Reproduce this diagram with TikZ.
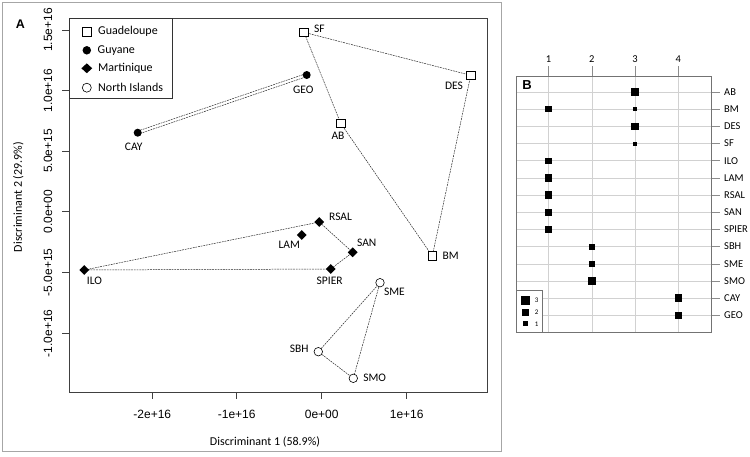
\documentclass[tikz,border=0pt]{standalone}
\usepackage{fontspec}
\setmainfont{Carlito}
\newfontfamily\arialf{Liberation Sans}
\usetikzlibrary{shapes.geometric}
\pgfdeclarelayer{bg}
\pgfsetlayers{bg,main}
\begin{document}
\begin{tikzpicture}[x=1pt,y=-1pt,
  sq/.style={rectangle, draw=black, fill=white, minimum size=8.5pt, inner sep=0pt, line width=0.6pt},
  fc/.style={circle, fill=black, minimum size=8pt, inner sep=0pt},
  oc/.style={circle, draw=black, fill=white, minimum size=8.5pt, inner sep=0pt, line width=0.6pt},
  dm/.style={diamond, fill=black, minimum width=10pt, minimum height=10pt, inner sep=0pt},
  lab/.style={font=\fontsize{11.5}{13}\selectfont, inner sep=0pt},
  leg/.style={font=\fontsize{12}{14}\selectfont, inner sep=0pt, anchor=west},
  tickl/.style={font=\arialf\fontsize{12}{14}\selectfont, inner sep=0pt},
  axt/.style={font=\fontsize{12}{14}\selectfont, inner sep=0pt},
  link/.style={dash pattern=on 1.8pt off 0.9pt, line width=0.5pt, black!85},
  frame/.style={draw=black!75, line width=1pt},
  tk/.style={draw=black!75, line width=0.8pt},
  panel/.style={font=\arialf\bfseries\fontsize{12.5}{14}\selectfont, inner sep=0pt},
  bsq/.style={rectangle, fill=black, inner sep=0pt, minimum size=#1},
  blab/.style={font=\fontsize{10.5}{12}\selectfont, inner sep=0pt},
  grid/.style={draw=black!18, line width=0.6pt},
  btk/.style={draw=black!45, line width=0.6pt}
]
\useasboundingbox (0,0) rectangle (750,456);
% outer frame of panel A
\draw[black!35, line width=1.3pt] (2.5,2.5) rectangle (501.5,451.5);
\node[panel] (A) at (20.5,24.5) {A};

% plot box
\draw[frame] (69,18.3) rectangle (487.3,392.3);

% x axis
\foreach \x/\t/\n in {152.3/-2e+16/xa, 236.7/-1e+16/xb, 321.7/0e+00/xc, 406.7/1e+16/xd}{
  \draw[tk] (\x,392.3) -- (\x,399);
  \node[tickl] (\n) at (\x,414) {\t};
}
% y axis
\foreach \y/\t/\n in {30/1.5e+16/ya, 90.7/1.0e+16/yb, 151/5.0e+15/yc, 211.7/0.0e+00/yd, 272.3/-5.0e+15/ye, 333.3/-1.0e+16/yf}{
  \draw[tk] (62,\y) -- (69,\y);
  \node[tickl, rotate=90] (\n) at (48,\y) {\t};
}
\node[axt] (xlab) at (265,441.5) {Discriminant 1 (58.9\%)};
\node[axt, rotate=90] (ylab) at (18.3,197) {Discriminant 2 (29.9\%)};

% points
\node[sq] (SF) at (304,32.3) {};
\node[sq] (DES) at (470.7,75.3) {};
\node[sq] (AB) at (340.7,123.3) {};
\node[sq] (BM) at (432.3,256) {};
\node[fc] (GEO) at (306.7,75) {};
\node[fc] (CAY) at (137.7,132.7) {};
\node[dm] (RSAL) at (319.3,222) {};
\node[dm] (LAM) at (301.7,235) {};
\node[dm] (SAN) at (352.7,252.3) {};
\node[dm] (SPIER) at (330.7,269) {};
\node[dm] (ILO) at (84.3,270) {};
\node[oc] (SME) at (380,282.7) {};
\node[oc] (SBH) at (318.3,351.7) {};
\node[oc] (SMO) at (353.3,378.3) {};

% labels
\node[lab, anchor=west] (SF-l) at (314,28.5) {SF};
\node[lab] (DES-l) at (454,86) {DES};
\node[lab] (AB-l) at (338,135.7) {AB};
\node[lab, anchor=west] (BM-l) at (442.5,256) {BM};
\node[lab] (GEO-l) at (303.3,89.5) {GEO};
\node[lab] (CAY-l) at (133.7,146.7) {CAY};
\node[lab, anchor=west] (RSAL-l) at (329,217.3) {RSAL};
\node[lab] (LAM-l) at (289.2,245) {LAM};
\node[lab] (SAN-l) at (366.7,242.7) {SAN};
\node[lab] (SPIER-l) at (329.7,281) {SPIER};
\node[lab] (ILO-l) at (94.5,281) {ILO};
\node[lab] (SME-l) at (394.5,291.7) {SME};
\node[lab] (SBH-l) at (299.3,349) {SBH};
\node[lab] (SMO-l) at (374.7,377.7) {SMO};

% connectors
\begin{pgfonlayer}{bg}
\draw[link] (SF.center) -- (DES.center) -- (BM.center) -- (AB.center) -- (SF.center);
\draw[link] ([yshift=1.6pt]CAY.center) -- ([yshift=1.6pt]GEO.center);
\draw[link] ([yshift=-1.6pt]CAY.center) -- ([yshift=-1.6pt]GEO.center);
\draw[link] (ILO.center) -- (RSAL.center) -- (SAN.center) -- (SPIER.center) -- (ILO.center);
\draw[link] (SME.center) -- (SBH.center) -- (SMO.center) -- (SME.center);
\end{pgfonlayer}

% legend A
\draw[draw=black!80, fill=white, line width=0.8pt] (69,18.3) rectangle (172.3,98.3);
\node[sq, minimum size=9pt] (lg1) at (86.5,31.7) {};
\node[fc, minimum size=8.5pt] (lg2) at (86.8,50.3) {};
\node[dm, minimum width=11pt, minimum height=10pt] (lg3) at (86.8,68.3) {};
\node[oc, minimum size=9pt] (lg4) at (86.8,87.7) {};
\node[leg] (lt1) at (98,31.7) {Guadeloupe};
\node[leg] (lt2) at (97.5,50.3) {Guyane};
\node[leg] (lt3) at (98,68.3) {Martinique};
\node[leg] (lt4) at (98,87.7) {North Islands};

% ---------------- panel B ----------------
% vertical grid lines and column labels
\foreach \c/\x in {1/548.5, 2/591.8, 3/635.1, 4/678.4}{
  \draw[grid] (\x,76) -- (\x,332.3);
  \draw[btk] (\x,66) -- (\x,76);
  \node[blab] (bc\c) at (\x,59.5) {\c};
}
% rows
\foreach \r [count=\i from 0] in {AB,BM,DES,SF,ILO,LAM,RSAL,SAN,SPIER,SBH,SME,SMO,CAY,GEO}{
  \pgfmathsetmacro{\yy}{92+17.18*\i}
  \draw[grid] (516.7,\yy) -- (711,\yy);
  \draw[btk] (711,\yy) -- (720,\yy);
  \node[blab, anchor=west] (br\r) at (724,\yy) {\r};
}
% legend B
\draw[draw=black!55, fill=white, line width=0.6pt] (516.7,290.7) rectangle (542.7,332.3);
\node[bsq=9pt] (bl3) at (525.2,300.3) {};
\node[bsq=7.3pt] (bl2) at (525.2,312.3) {};
\node[bsq=5pt] (bl1) at (525.2,323.7) {};
\node[blab, font=\fontsize{7}{8}\selectfont] (blt3) at (536.7,300.5) {3};
\node[blab, font=\fontsize{7}{8}\selectfont] (blt2) at (536.7,312.5) {2};
\node[blab, font=\fontsize{7}{8}\selectfont] (blt1) at (536.7,323.9) {1};
% box B
\draw[draw=black!55, line width=0.8pt] (516.7,76) rectangle (711,332.3);
\node[panel, font=\arialf\bfseries\fontsize{13}{15}\selectfont] (B) at (527,84.7) {B};
% data squares
\foreach \x/\i/\s/\n in {635.1/0/7.5pt/d1, 548.5/1/6.2pt/d2, 635.1/1/4pt/d3, 635.1/2/7.5pt/d4, 635.1/3/4pt/d5,
  548.5/4/6.2pt/d6, 548.5/5/7.5pt/d7, 548.5/6/7.5pt/d8, 548.5/7/7.5pt/d9, 548.5/8/6.2pt/d10,
  591.8/9/6.2pt/d11, 591.8/10/6.2pt/d12, 591.8/11/7.5pt/d13, 678.4/12/7.5pt/d14, 678.4/13/7.5pt/d15}{
  \pgfmathsetmacro{\yy}{92+17.18*\i}
  \node[bsq=\s] (\n) at (\x,\yy) {};
}
\end{tikzpicture}
\end{document}
